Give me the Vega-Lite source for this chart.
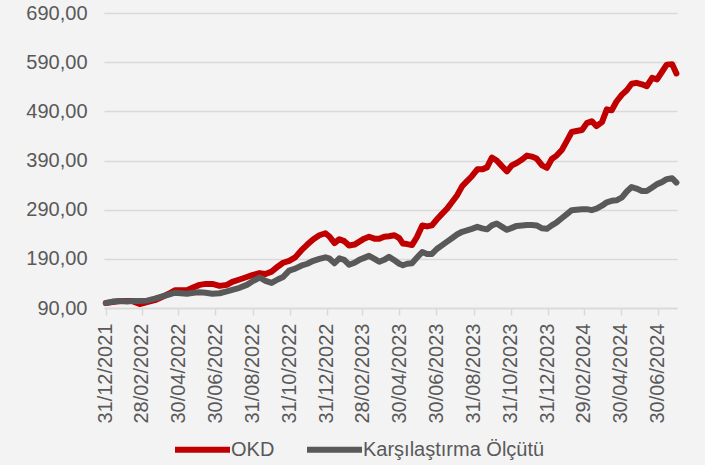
{
  "$schema": "https://vega.github.io/schema/vega-lite/v6.json",
  "autosize": {"type": "none"},
  "width": 573,
  "height": 295,
  "padding": {"left": 104, "top": 13, "right": 28, "bottom": 157},
  "background": "#f3f3f4",
  "config": {"view": {"stroke": null}},
  "data": {"values": [
    {"d":"2021/12/31","OKD":100,"KO":100},
    {"d":"2022/01/11","OKD":102,"KO":103},
    {"d":"2022/01/23","OKD":104,"KO":104},
    {"d":"2022/02/04","OKD":104,"KO":103},
    {"d":"2022/02/13","OKD":104,"KO":104},
    {"d":"2022/02/25","OKD":98,"KO":104},
    {"d":"2022/03/09","OKD":102,"KO":105},
    {"d":"2022/03/22","OKD":106,"KO":109},
    {"d":"2022/04/02","OKD":112,"KO":113},
    {"d":"2022/04/14","OKD":119,"KO":117},
    {"d":"2022/04/24","OKD":126,"KO":121},
    {"d":"2022/05/04","OKD":126,"KO":120},
    {"d":"2022/05/14","OKD":126,"KO":119},
    {"d":"2022/05/25","OKD":132,"KO":121},
    {"d":"2022/06/04","OKD":137,"KO":122},
    {"d":"2022/06/14","OKD":139,"KO":121},
    {"d":"2022/06/25","OKD":139,"KO":119},
    {"d":"2022/07/07","OKD":135,"KO":120},
    {"d":"2022/07/19","OKD":137,"KO":124},
    {"d":"2022/07/28","OKD":143,"KO":127},
    {"d":"2022/08/09","OKD":148,"KO":131},
    {"d":"2022/08/21","OKD":153,"KO":137},
    {"d":"2022/08/30","OKD":157,"KO":144},
    {"d":"2022/09/11","OKD":161,"KO":152},
    {"d":"2022/09/21","OKD":159,"KO":145},
    {"d":"2022/10/01","OKD":164,"KO":141},
    {"d":"2022/10/11","OKD":174,"KO":148},
    {"d":"2022/10/20","OKD":182,"KO":153},
    {"d":"2022/10/30","OKD":186,"KO":166},
    {"d":"2022/11/09","OKD":193,"KO":170},
    {"d":"2022/11/19","OKD":207,"KO":176},
    {"d":"2022/11/29","OKD":219,"KO":180},
    {"d":"2022/12/09","OKD":230,"KO":186},
    {"d":"2022/12/19","OKD":238,"KO":190},
    {"d":"2022/12/29","OKD":242,"KO":193},
    {"d":"2023/01/04","OKD":236,"KO":191},
    {"d":"2023/01/13","OKD":222,"KO":181},
    {"d":"2023/01/21","OKD":230,"KO":191},
    {"d":"2023/01/29","OKD":226,"KO":188},
    {"d":"2023/02/06","OKD":217,"KO":178},
    {"d":"2023/02/15","OKD":219,"KO":182},
    {"d":"2023/02/23","OKD":225,"KO":188},
    {"d":"2023/03/03","OKD":231,"KO":192},
    {"d":"2023/03/11","OKD":235,"KO":196},
    {"d":"2023/03/20","OKD":231,"KO":190},
    {"d":"2023/03/28","OKD":231,"KO":184},
    {"d":"2023/04/05","OKD":235,"KO":188},
    {"d":"2023/04/13","OKD":236,"KO":194},
    {"d":"2023/04/22","OKD":238,"KO":187},
    {"d":"2023/04/30","OKD":232,"KO":180},
    {"d":"2023/05/06","OKD":221,"KO":177},
    {"d":"2023/05/13","OKD":220,"KO":180},
    {"d":"2023/05/21","OKD":218,"KO":181},
    {"d":"2023/05/29","OKD":234,"KO":192},
    {"d":"2023/06/07","OKD":258,"KO":204},
    {"d":"2023/06/15","OKD":256,"KO":200},
    {"d":"2023/06/23","OKD":258,"KO":200},
    {"d":"2023/07/01","OKD":270,"KO":210},
    {"d":"2023/07/10","OKD":282,"KO":218},
    {"d":"2023/07/18","OKD":292,"KO":225},
    {"d":"2023/07/26","OKD":305,"KO":232},
    {"d":"2023/08/04","OKD":320,"KO":240},
    {"d":"2023/08/12","OKD":338,"KO":245},
    {"d":"2023/08/20","OKD":348,"KO":248},
    {"d":"2023/08/28","OKD":358,"KO":251},
    {"d":"2023/09/06","OKD":372,"KO":255},
    {"d":"2023/09/14","OKD":372,"KO":252},
    {"d":"2023/09/22","OKD":376,"KO":250},
    {"d":"2023/09/30","OKD":396,"KO":258},
    {"d":"2023/10/08","OKD":390,"KO":262},
    {"d":"2023/10/17","OKD":378,"KO":255},
    {"d":"2023/10/25","OKD":368,"KO":249},
    {"d":"2023/11/02","OKD":380,"KO":253},
    {"d":"2023/11/10","OKD":385,"KO":257},
    {"d":"2023/11/19","OKD":392,"KO":258},
    {"d":"2023/11/27","OKD":400,"KO":259},
    {"d":"2023/12/05","OKD":398,"KO":259},
    {"d":"2023/12/13","OKD":394,"KO":258},
    {"d":"2023/12/22","OKD":380,"KO":252},
    {"d":"2023/12/30","OKD":375,"KO":251},
    {"d":"2024/01/07","OKD":393,"KO":258},
    {"d":"2024/01/15","OKD":400,"KO":264},
    {"d":"2024/01/24","OKD":412,"KO":273},
    {"d":"2024/02/01","OKD":430,"KO":281},
    {"d":"2024/02/09","OKD":448,"KO":289},
    {"d":"2024/02/17","OKD":450,"KO":290},
    {"d":"2024/02/26","OKD":452,"KO":291},
    {"d":"2024/03/05","OKD":466,"KO":291},
    {"d":"2024/03/13","OKD":470,"KO":289},
    {"d":"2024/03/21","OKD":460,"KO":292},
    {"d":"2024/03/30","OKD":468,"KO":298},
    {"d":"2024/04/07","OKD":494,"KO":305},
    {"d":"2024/04/15","OKD":492,"KO":308},
    {"d":"2024/04/23","OKD":510,"KO":309},
    {"d":"2024/05/02","OKD":524,"KO":315},
    {"d":"2024/05/10","OKD":533,"KO":327},
    {"d":"2024/05/18","OKD":546,"KO":336},
    {"d":"2024/05/26","OKD":548,"KO":333},
    {"d":"2024/06/04","OKD":545,"KO":328},
    {"d":"2024/06/12","OKD":541,"KO":328},
    {"d":"2024/06/21","OKD":558,"KO":335},
    {"d":"2024/06/29","OKD":555,"KO":342},
    {"d":"2024/07/07","OKD":570,"KO":346},
    {"d":"2024/07/15","OKD":585,"KO":352},
    {"d":"2024/07/24","OKD":586,"KO":354},
    {"d":"2024/07/31","OKD":567,"KO":345}
  ]},
  "encoding": {
    "x": {
      "field": "d", "type": "temporal",
      "scale": {"domain": [{"year":2021,"month":12,"date":28},{"year":2024,"month":8,"date":1}]},
      "axis": {
        "title": null,
        "format": "%d/%m/%Y",
        "values": [
          {"year":2021,"month":12,"date":31},
          {"year":2022,"month":2,"date":28},
          {"year":2022,"month":4,"date":30},
          {"year":2022,"month":6,"date":30},
          {"year":2022,"month":8,"date":31},
          {"year":2022,"month":10,"date":31},
          {"year":2022,"month":12,"date":31},
          {"year":2023,"month":2,"date":28},
          {"year":2023,"month":4,"date":30},
          {"year":2023,"month":6,"date":30},
          {"year":2023,"month":8,"date":31},
          {"year":2023,"month":10,"date":31},
          {"year":2023,"month":12,"date":31},
          {"year":2024,"month":2,"date":29},
          {"year":2024,"month":4,"date":30},
          {"year":2024,"month":6,"date":30}
        ],
        "labelAngle": -90,
        "labelAlign": "right",
        "labelBaseline": "middle",
        "labelFont": "Liberation Sans",
        "labelFontSize": 20,
        "labelColor": "#595959",
        "labelPadding": 8,
        "labelOverlap": false,
        "labelFlush": false,
        "grid": false,
        "domainColor": "#d9d9d9",
        "domainWidth": 1.5,
        "tickColor": "#d9d9d9",
        "tickWidth": 1.5,
        "tickSize": 7
      }
    }
  },
  "layer": [
    {
      "mark": {"type": "line", "strokeWidth": 6, "strokeJoin": "round", "strokeCap": "round"},
      "encoding": {
        "y": {
          "field": "OKD", "type": "quantitative",
          "scale": {"domain": [90, 690], "nice": false, "zero": false},
          "axis": {
            "title": null,
            "values": [90, 190, 290, 390, 490, 590, 690],
            "format": ".2f",
            "labelExpr": "replace(datum.label, '.', ',')",
            "labelFont": "Liberation Sans",
            "labelFontSize": 20,
            "labelColor": "#595959",
            "labelPadding": 17,
            "domain": false,
            "ticks": false,
            "grid": true,
            "gridColor": "#d9d9d9",
            "gridWidth": 1.5
          }
        },
        "color": {
          "datum": "OKD",
          "scale": {"domain": ["OKD", "Karşılaştırma Ölçütü"], "range": ["#c00000", "#595959"]},
          "legend": {
            "orient": "none",
            "legendX": 68,
            "legendY": 406,
            "direction": "horizontal",
            "title": null,
            "symbolType": "stroke",
            "symbolSize": 3025,
            "symbolStrokeWidth": 6,
            "labelFont": "Liberation Sans",
            "labelFontSize": 20,
            "labelColor": "#595959",
            "labelLimit": 400,
            "labelOffset": -2,
            "columnPadding": 20
          }
        }
      }
    },
    {
      "mark": {"type": "line", "strokeWidth": 6, "strokeJoin": "round", "strokeCap": "round"},
      "encoding": {
        "y": {"field": "KO", "type": "quantitative"},
        "color": {"datum": "Karşılaştırma Ölçütü"}
      }
    }
  ]
}
